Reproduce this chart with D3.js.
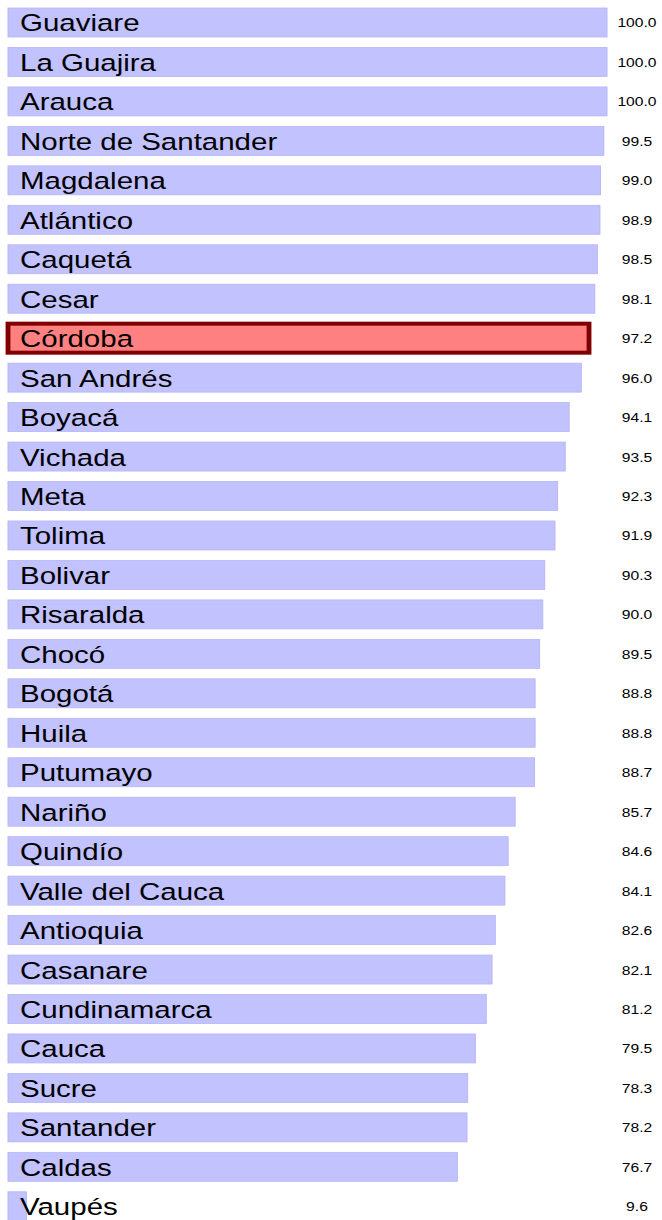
<!DOCTYPE html>
<html>
<head>
<meta charset="utf-8">
<script src="https://cdn.jsdelivr.net/npm/d3@7"></script>
<style>
  html, body { margin: 0; padding: 0; background: #fff; }
  svg { display: block; }
</style>
</head>
<body>
<script>
// departments and their values (sorted as in the picture)
const departments = [
  "Guaviare", "La Guajira", "Arauca", "Norte de Santander", "Magdalena",
  "Atlántico", "Caquetá", "Cesar", "Córdoba", "San Andrés", "Boyacá",
  "Vichada", "Meta", "Tolima", "Bolivar", "Risaralda", "Chocó", "Bogotá",
  "Huila", "Putumayo", "Nariño", "Quindío", "Valle del Cauca", "Antioquia",
  "Casanare", "Cundinamarca", "Cauca", "Sucre", "Santander", "Caldas", "Vaupés"
]
const values = [
  100.0, 100.0, 100.0, 99.5, 99.0,
  98.9, 98.5, 98.1, 97.2, 96.0, 94.1,
  93.5, 92.3, 91.9, 90.3, 90.0, 89.5, 88.8,
  88.8, 88.7, 85.7, 84.6, 84.1, 82.6,
  82.1, 81.2, 79.5, 78.3, 78.2, 76.7, 9.6
]
const highlighted = ["Córdoba"]

const data = departments.map((d, i) => ({ name: d, value: values[i] }))

// the picture is a stretched svg: viewBox narrower than the page
const width = 662, height = 1220
const vbW = 550
const k = width / vbW

const svg = d3.select("body").append("svg")
    .attr("width", width)
    .attr("height", height)
    .attr("viewBox", `0 0 ${vbW} ${height}`)
    .attr("preserveAspectRatio", "none")

const x = d3.scaleLinear()
    .domain([d3.min(values) * 0.7, d3.max(values)])
    .range([8 / k, 607 / k])

const y = d3.scaleBand()
    .domain(departments)
    .range([8, 8 + 30 * 39.46 + 29])
    .paddingInner(0.265)
    .paddingOuter(0)

const rows = svg.selectAll("g.row")
    .data(data)
    .join("g")
    .attr("class", "row")

rows.append("rect")
    .attr("x", x.range()[0])
    .attr("y", d => y(d.name))
    .attr("width", d => x(d.value) - x.range()[0])
    .attr("height", y.bandwidth())
    .attr("fill", d => highlighted.includes(d.name) ? "#ff8080" : "#c2c2ff")
    .attr("stroke", d => highlighted.includes(d.name) ? "#800000" : "#b6b6f6")
    .attr("stroke-width", d => highlighted.includes(d.name) ? 4 : 0.8)

rows.append("text")
    .attr("x", 20 / k)
    .attr("y", d => y(d.name) + y.bandwidth() / 2 + 9)
    .attr("font-family", "'Liberation Sans', Arial, sans-serif")
    .attr("font-size", 24.5)
    .attr("fill", "#000")
    .text(d => d.name)

rows.append("text")
    .attr("x", 637 / k)
    .attr("y", d => y(d.name) + y.bandwidth() / 2 + 5)
    .attr("text-anchor", "middle")
    .attr("font-family", "'Liberation Sans', Arial, sans-serif")
    .attr("font-size", 13)
    .attr("fill", "#000")
    .text(d => d3.format(".1f")(d.value))
</script>
</body>
</html>
